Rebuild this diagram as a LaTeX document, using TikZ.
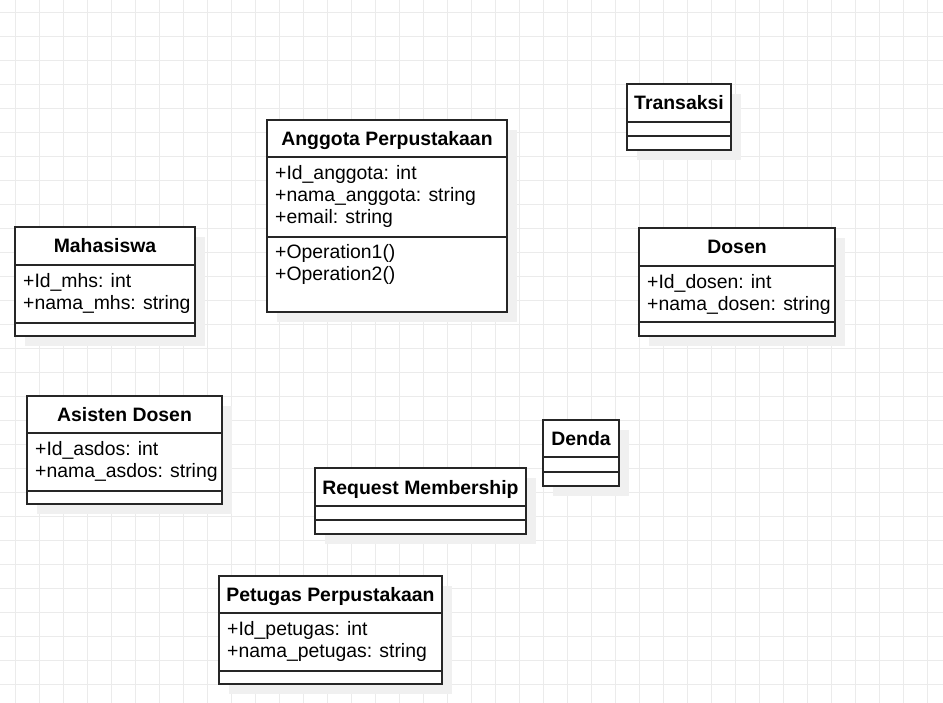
\documentclass[tikz,border=0pt]{standalone}
\usepackage{fontspec}
\setmainfont{Liberation Sans}
\tikzset{
  cls/.style={draw=black!85, line width=1.3pt, fill=white, inner sep=0pt, outer sep=0pt, anchor=north west},
  shd/.style={fill=black!6},
  ttl/.style={font=\fontsize{19.4}{23}\selectfont\bfseries, anchor=base, inner sep=0pt},
  attr/.style={font=\fontsize{19.4}{23}\selectfont, anchor=base west, inner sep=0pt},
  sepline/.style={draw=black!85, line width=1.3pt},
  gridln/.style={draw=black!8, line width=0.9pt}
}
% \umlcls{name}{x1}{y1}{x2}{y2}{header line y}{divider y}{title}
\newcommand\umlcls[8]{%
  \fill[shd] ({#2+10},{#3+10}) rectangle ({#4+10},{#5+10});
  \node[cls, minimum width={(#4-#2)*1pt}, minimum height={(#5-#3)*1pt}] (#1) at (#2,#3) {};
  \draw[sepline] (#2,#6) -- (#4,#6);
  \draw[sepline] (#2,#7) -- (#4,#7);
  \node[ttl] (#1-title) at ({(#2+#4)/2},{(#3+#6)/2+7}) {#8};
}
\begin{document}
\begin{tikzpicture}[x=1pt,y=-1pt]
\useasboundingbox (0,0) rectangle (943,703);
\fill[white] (0,0) rectangle (943,703);
% grid
\foreach \gx in {0,...,38} {\draw[gridln] ({15.3+24*\gx},0) -- ({15.3+24*\gx},703);}
\foreach \gy in {0,...,28} {\draw[gridln] (0,{12.3+24*\gy}) -- (943,{12.3+24*\gy});}

% Anggota Perpustakaan
\umlcls{ang}{267}{120}{507}{312}{157}{237}{Anggota Perpustakaan}
\node[attr] (ang-a1) at (275,179.5) {+Id\_anggota: int};
\node[attr] (ang-a2) at (275,201.5) {+nama\_anggota: string};
\node[attr] (ang-a3) at (275,223.5) {+email: string};
\node[attr] (ang-o1) at (275,259) {+Operation1()};
\node[attr] (ang-o2) at (275,281) {+Operation2()};

% Mahasiswa
\umlcls{mhs}{15}{227}{195}{336}{265}{323}{Mahasiswa}
\node[attr] (mhs-a1) at (23,287.5) {+Id\_mhs: int};
\node[attr] (mhs-a2) at (23,309.5) {+nama\_mhs: string};

% Transaksi
\umlcls{trx}{627}{84}{731}{150}{122}{136}{Transaksi}

% Dosen
\umlcls{dsn}{639}{228}{835}{336}{266}{322}{Dosen}
\node[attr] (dsn-a1) at (647,288.5) {+Id\_dosen: int};
\node[attr] (dsn-a2) at (647,310.5) {+nama\_dosen: string};

% Asisten Dosen
\umlcls{asd}{27}{396}{222}{504}{433}{491}{Asisten Dosen}
\node[attr] (asd-a1) at (35,455.5) {+Id\_asdos: int};
\node[attr] (asd-a2) at (35,477.5) {+nama\_asdos: string};

% Request Membership
\umlcls{req}{315}{468}{526}{534}{506}{520}{Request Membership}

% Denda
\umlcls{dnd}{543}{420}{619}{486}{457}{472}{Denda}

% Petugas Perpustakaan
\umlcls{ptg}{219}{576}{442}{684}{613}{671}{Petugas Perpustakaan}
\node[attr] (ptg-a1) at (227,635.5) {+Id\_petugas: int};
\node[attr] (ptg-a2) at (227,657.5) {+nama\_petugas: string};
\end{tikzpicture}
\end{document}
